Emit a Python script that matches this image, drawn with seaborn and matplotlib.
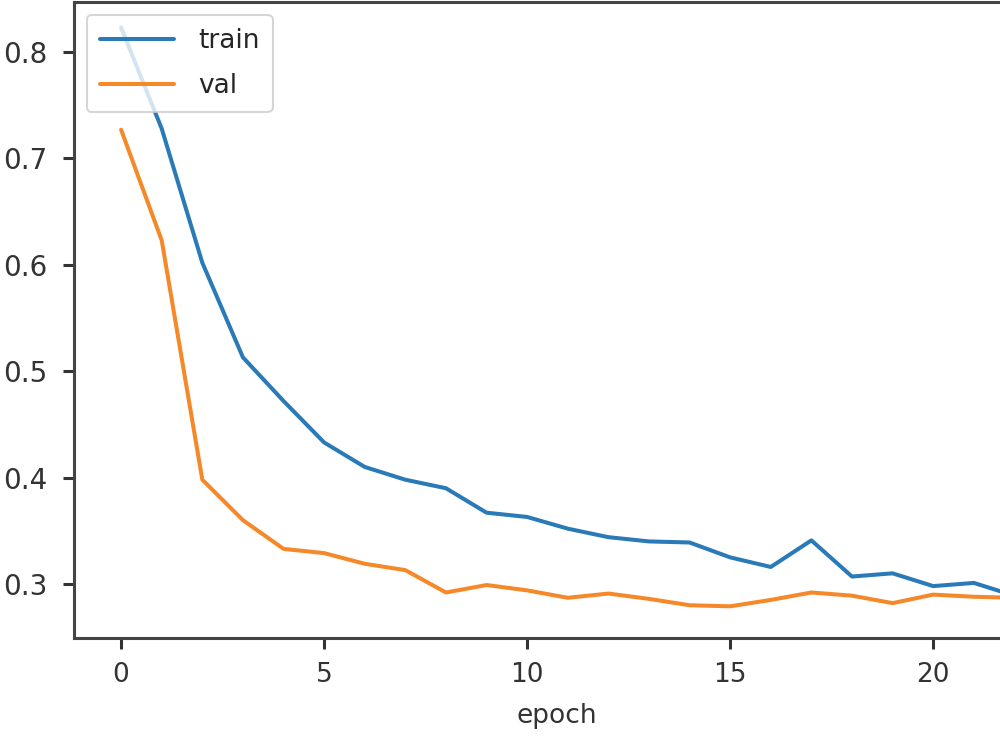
import numpy as np
import pandas as pd
import matplotlib
matplotlib.use("Agg")
import matplotlib.pyplot as plt
import seaborn as sns

epochs = list(range(23))
train = [0.823, 0.728, 0.602, 0.513, 0.472, 0.433, 0.410, 0.398, 0.390, 0.367,
         0.363, 0.352, 0.344, 0.340, 0.339, 0.325, 0.316, 0.341, 0.307, 0.310,
         0.298, 0.301, 0.289]
val = [0.727, 0.623, 0.398, 0.360, 0.333, 0.329, 0.319, 0.313, 0.292, 0.299,
       0.294, 0.287, 0.291, 0.286, 0.280, 0.279, 0.285, 0.292, 0.289, 0.282,
       0.290, 0.288, 0.287]
series_names = ["train", "val"]

df = pd.DataFrame({
    "epoch": epochs * 2,
    "value": train + val,
    "series": [series_names[0]] * len(epochs) + [series_names[1]] * len(epochs),
})

sns.set_style("ticks")
plt.rcParams["font.family"] = ["DejaVu Sans"]

fig = plt.figure(figsize=(10, 7.5), dpi=100)
ax = fig.add_axes([0.074, 0.1493, 0.966, 0.848])

sns.lineplot(data=df, x="epoch", y="value", hue="series",
             palette=["#2a7ab8", "#f5892a"], linewidth=2.9, ax=ax,
             estimator=None, legend=True)

ax.set_xlim(-1.16, 22.63)
ax.set_ylim(0.2492, 0.847)
ax.set_xticks([0, 5, 10, 15, 20])
ax.set_yticks([0.3, 0.4, 0.5, 0.6, 0.7, 0.8])
ax.set_yticklabels(["0.3", "0.4", "0.5", "0.6", "0.7", "0.8"])
ax.set_xlabel("epoch", fontsize=19, color="#333333", labelpad=11)
ax.set_ylabel("")
ax.tick_params(axis="both", labelsize=19, colors="#333333", length=8, width=2.2)
ax.tick_params(axis="y", pad=11, labelsize=20)
ax.tick_params(axis="x", pad=9)
for s in ax.spines.values():
    s.set_linewidth(2.2)
    s.set_color("#444444")
    s.set_visible(True)

leg = ax.legend(loc="upper left", fontsize=19, frameon=True, borderaxespad=0.5,
                handlelength=2.8, handletextpad=0.9, labelspacing=0.7,
                borderpad=0.5)
leg.get_frame().set_edgecolor("#cccccc")
leg.get_frame().set_linewidth(1.5)
for line in leg.get_lines():
    line.set_linewidth(2.9)

fig.savefig("out.png", dpi=100)
